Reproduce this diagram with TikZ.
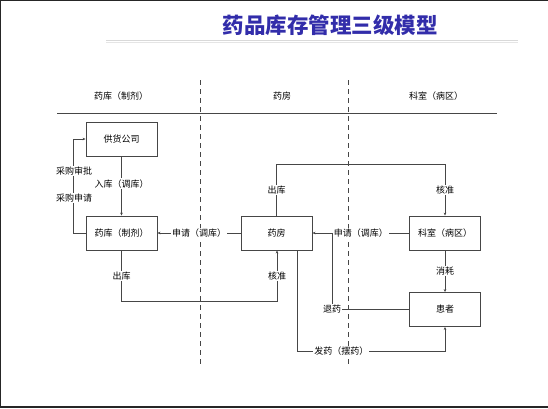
\documentclass[tikz,border=0pt]{standalone}
\usepackage{fontspec}
\setmainfont{Noto Sans CJK SC}
\newfontfamily\titlefont{Noto Sans CJK SC Black}
\usetikzlibrary{arrows.meta}
\definecolor{titleblue}{RGB}{50,45,170}
\definecolor{linegray}{RGB}{70,70,70}
\tikzset{
  box/.style={draw=linegray, line width=0.9pt, minimum width=71pt, minimum height=34pt, inner sep=0pt, font=\fontsize{9}{9}\selectfont},
  conn/.style={draw=linegray, line width=0.8pt},
  arr/.style={conn, -{Stealth[length=3pt,width=2.6pt]}},
  lbl/.style={fill=white, inner sep=1pt, font=\fontsize{9}{9}\selectfont},
  hdr/.style={font=\fontsize{9}{9}\selectfont},
  sep/.style={draw=linegray, line width=0.7pt, dash pattern=on 5pt off 4pt},
}
\begin{document}
\begin{tikzpicture}[x=1pt,y=-1pt]
\useasboundingbox (0,0) rectangle (548,408);
% frame
\draw[line width=1.2pt, black!85] (548,0.6) -- (0.6,0.6) -- (0.6,407) -- (548,407);
% title
\node[font=\titlefont\fontsize{21.5}{21.5}\selectfont, text=titleblue] (title) at (330,25) {药品库存管理三级模型};
\draw[black!15, line width=1pt] (106,40.5) -- (518,40.5);
\draw[black!10, line width=0.8pt] (106,42.5) -- (518,42.5);
% headers
\node[hdr] (h1) at (121,96) {药库（制剂）};
\node[hdr] (h2) at (282,96) {药房};
\node[hdr] (h3) at (436,96) {科室（病区）};
\draw[linegray, line width=0.9pt] (57,113) -- (497,113);
% dashed separators
\draw[sep] (200,80) -- (200,366);
\draw[sep] (348,80) -- (348,366);
% boxes
\node[box] (gh) at (121.5,139) {供货公司};
\node[box] (yk) at (121.5,233) {药库（制剂）};
\node[box] (yf) at (276.5,233) {药房};
\node[box] (ks) at (445,233) {科室（病区）};
\node[box] (hz) at (445,309.5) {患者};
% coordinates
\coordinate (cg1) at (73,233);
\coordinate (cg2) at (73,139);
\coordinate (ck1) at (121.5,301);
\coordinate (ck2) at (277,301);
\coordinate (cf1) at (276.5,164);
\coordinate (cf2) at (445,164);
\coordinate (ct) at (332,309.5);
\coordinate (ct2) at (332,233);
\coordinate (cd1) at (297,351);
\coordinate (cd2) at (445,351);
% connectors
\draw[arr] (yk.west) -- (cg1) -- (cg2) -- (gh.west);
\node[lbl] (l1) at (74,171) {采购审批};
\node[lbl] (l2) at (74,198) {采购申请};
\draw[arr] (gh.south) -- node[lbl, pos=0.46] (l3) {入库（调库）} (yk.north);
\draw[arr] (yf.west) -- node[lbl] (l4) {申请（调库）} (yk.east);
\draw[arr] (yk.south) -- node[lbl, pos=0.5] (l5) {出库} (ck1) -- (ck2) -- node[lbl, pos=0.5] (l6) {核准} (ck2 |- yf.south);
\draw[arr] (yf.north) -- node[lbl, pos=0.5] (l7) {出库} (cf1) -- (cf2) -- node[lbl, pos=0.5] (l8) {核准} (ks.north);
\draw[arr] (ks.west) -- node[lbl, pos=0.5] (l9) {申请（调库）} (yf.east);
\draw[arr] (ks.south) -- node[lbl] (l10) {消耗} (hz.north);
\draw[conn] (hz.west) -- (ct) -- (ct2);
\node[lbl] (l11) at (332,309) {退药};
\draw[arr] (cd1 |- yf.south) -- (cd1) -- node[lbl, pos=0.3] (l12) {发药（摆药）} (cd2) -- (hz.south);
\end{tikzpicture}
\end{document}
